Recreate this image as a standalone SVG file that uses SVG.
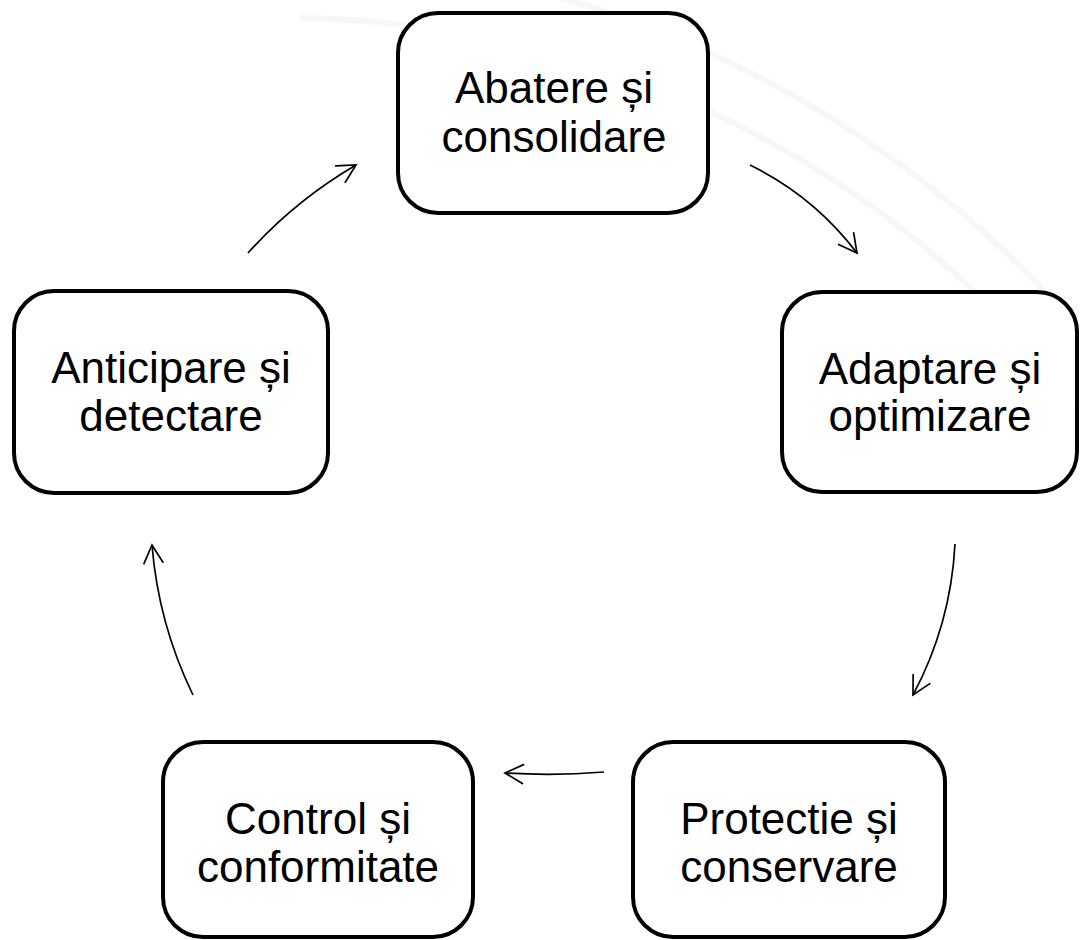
<svg xmlns="http://www.w3.org/2000/svg" width="1080" height="940" viewBox="0 0 1080 940">
  <style>
    .box { fill: #ffffff; stroke: #000000; stroke-width: 4; }
    .lbl { font-family: "Liberation Sans", Arial, sans-serif; font-size: 44px; fill: #000000; text-anchor: middle; }
    .conn { fill: none; stroke: #000000; stroke-width: 1.7; marker-end: url(#arrow); }
    .bg { fill: none; stroke: #f7f7f7; stroke-width: 6; }
  </style>
  <defs>
    <marker id="arrow" viewBox="-22 -12 24 24" markerWidth="24" markerHeight="24" refX="0" refY="0" orient="auto" markerUnits="userSpaceOnUse">
      <path d="M -18 -9.5 L 0 0 L -18 9.5" fill="none" stroke="#000000" stroke-width="1.7" stroke-linecap="round" stroke-linejoin="miter"/>
    </marker>
  </defs>
  <rect width="1080" height="940" fill="#ffffff"/>
  <g id="background">
    <path class="bg" d="M 300 18 A 1000 1000 0 0 1 1080 408"/>
    <path class="bg" d="M 360 -40 A 1085 1085 0 0 1 1080 330"/>
  </g>
  <g id="connectors">
    <path class="conn" d="M 248 253 A 450 450 0 0 1 356 165"/>
    <path class="conn" d="M 750 165 A 300 300 0 0 1 857 253"/>
    <path class="conn" d="M 955 544 A 360 360 0 0 1 913 695"/>
    <path class="conn" d="M 604 772 A 700 700 0 0 1 505 773"/>
    <path class="conn" d="M 193 695 A 420 420 0 0 1 152 545"/>
  </g>
  <g id="node-abatere">
    <rect class="box" x="398" y="13" width="310" height="200" rx="40" ry="40"/>
    <text class="lbl" x="554" y="103">Abatere și</text>
    <text class="lbl" x="554" y="152">consolidare</text>
  </g>
  <g id="node-anticipare">
    <rect class="box" x="14" y="291" width="314" height="202" rx="40" ry="40"/>
    <text class="lbl" x="171" y="383">Anticipare și</text>
    <text class="lbl" x="171" y="431">detectare</text>
  </g>
  <g id="node-adaptare">
    <rect class="box" x="782" y="292" width="295" height="200" rx="40" ry="40"/>
    <text class="lbl" x="930" y="384">Adaptare și</text>
    <text class="lbl" x="930" y="431">optimizare</text>
  </g>
  <g id="node-control">
    <rect class="box" x="163" y="742" width="310" height="195" rx="40" ry="40"/>
    <text class="lbl" x="318" y="834">Control și</text>
    <text class="lbl" x="318" y="882">conformitate</text>
  </g>
  <g id="node-protectie">
    <rect class="box" x="633" y="742" width="312" height="195" rx="40" ry="40"/>
    <text class="lbl" x="789" y="834">Protectie și</text>
    <text class="lbl" x="789" y="882">conservare</text>
  </g>
</svg>
